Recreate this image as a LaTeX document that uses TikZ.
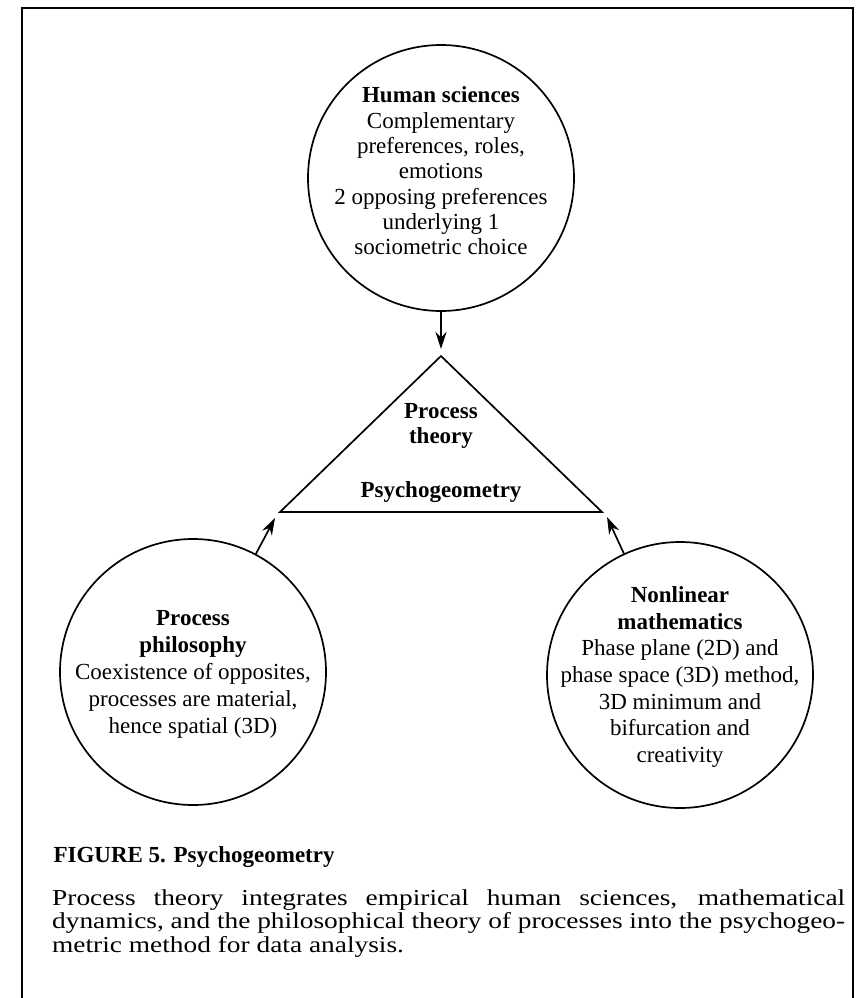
\documentclass[tikz,border=0pt]{standalone}
\usepackage{fontspec}
\setmainfont{Liberation Serif}
\newfontfamily\widefont[FakeStretch=1.2]{Liberation Serif}
\usepackage{tikz}
\usetikzlibrary{arrows.meta, positioning, calc}

\begin{document}
\begin{tikzpicture}[
    x=1pt, y=-1pt,
    field/.style={circle, draw=black, line width=1.7pt, minimum size=266pt, inner sep=0pt},
    fieldtext/.style={align=center, font=\fontsize{23}{26.7}\selectfont},
    corner/.style={align=center, font=\fontsize{23}{25}\selectfont\bfseries},
    arrow/.style={-{Stealth[length=17pt, width=11pt]}, line width=1.7pt},
    frame/.style={line width=1.8pt}
]
\useasboundingbox (0,0) rectangle (860,998);

% Frame
\draw[frame] (22,998) |- (853,8) -- (853,998);

% Human sciences
\node[field] (human) at (441,178) {};
\node[fieldtext, font=\fontsize{23}{25.3}\selectfont] (humantext) at ([yshift=7pt]human.center) {\textbf{Human sciences}\\Complementary\\preferences, roles,\\emotions\\2 opposing preferences\\underlying 1\\sociometric choice};

% Process philosophy
\node[field] (philo) at (193,672) {};
\node[fieldtext, font=\fontsize{23}{27}\selectfont] (philotext) at ([yshift=-2pt]philo.center) {\textbf{Process}\\\textbf{philosophy}\\Coexistence of opposites,\\processes are material,\\hence spatial (3D)};

% Nonlinear mathematics
\node[field] (math) at (680,675) {};
\node[fieldtext] (mathtext) at ([yshift=-2pt]math.center) {\textbf{Nonlinear}\\\textbf{mathematics}\\Phase plane (2D) and\\phase space (3D) method,\\3D minimum and\\bifurcation and\\creativity};

% Process theory triangle
\coordinate (apex) at (441,356);
\coordinate (baseleft) at (280,512);
\coordinate (baseright) at (602,512);
\draw[line width=1.7pt, line join=miter] (apex) -- (baseleft) -- (baseright) -- cycle;
\node[corner] (theory) at (441,426) {Process\\theory};
\node[corner] (psycho) at (441,492) {Psychogeometry};

% Relationships
\coordinate (tiptop) at (441,349);
\coordinate (tipleft) at (275,518);
\coordinate (tipright) at (607,517);
\draw[arrow] (human) -- (tiptop);
\draw[arrow] (philo) -- (tipleft);
\draw[arrow] (math) -- (tipright);

% Caption
\node[anchor=west, font=\fontsize{23}{25}\selectfont\bfseries] (figtitle) at (50,857) {FIGURE 5. Psychogeometry};
\node[anchor=north west, text width=793pt, align=justify, inner sep=0pt, font=\widefont\fontsize{22.8}{23.8}\selectfont] (figtext) at (52,889) {Process theory integrates empirical human sciences, mathematical\linebreak dynamics, and the philosophical theory of processes into the psychogeo-\linebreak metric method for data analysis.};

\end{tikzpicture}
\end{document}
